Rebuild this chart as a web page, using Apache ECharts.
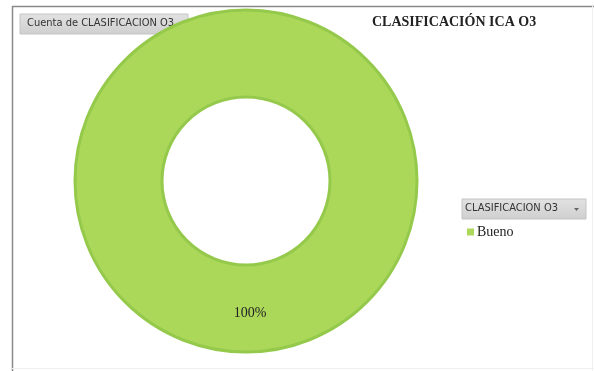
<!DOCTYPE html>
<html>
<head>
<meta charset="utf-8">
<script src="https://cdn.jsdelivr.net/npm/echarts@6/dist/echarts.min.js"></script>
<style>
  html, body { margin: 0; padding: 0; background: #fff; }
  #chart { width: 594px; height: 371px; }
</style>
</head>
<body>
<div id="chart"></div>
<script>
// Pivot chart data: count of O3 classification
const categories = ['Bueno'];
const counts = [1];
const chartTitle = 'CLASIFICACIÓN ICA O3';
const fieldButton = 'Cuenta de CLASIFICACION O3';
const legendButton = 'CLASIFICACION O3';

const chart = echarts.init(document.getElementById('chart'), null, { renderer: 'canvas' });

const pieData = categories.map((name, i) => ({ name: name, value: counts[i] }));

chart.setOption({
  animation: false,
  backgroundColor: '#ffffff',
  title: {
    text: chartTitle,
    left: 372,
    top: 15,
    padding: 0,
    textStyle: {
      fontFamily: 'Liberation Serif, Times New Roman, serif',
      fontWeight: 'bold',
      fontSize: 14,
      color: '#222'
    }
  },
  legend: {
    data: categories,
    orient: 'vertical',
    left: 462,
    top: 220,
    icon: 'rect',
    itemWidth: 7,
    itemHeight: 7,
    itemGap: 4,
    itemStyle: { borderWidth: 0 },
    textStyle: {
      fontFamily: 'Liberation Serif, Times New Roman, serif',
      fontSize: 14,
      color: '#222',
      padding: [0, 0, 0, -2]
    }
  },
  graphic: [
    // outer frame of the chart area
    { type: 'line', shape: { x1: 12, y1: 6.5, x2: 594, y2: 6.5 }, style: { stroke: '#8a8a8a', lineWidth: 1.5 } },
    { type: 'line', shape: { x1: 12.5, y1: 6, x2: 12.5, y2: 371 }, style: { stroke: '#8a8a8a', lineWidth: 1.5 } },
    { type: 'line', shape: { x1: 12, y1: 368.5, x2: 594, y2: 368.5 }, style: { stroke: '#f0f0f0', lineWidth: 1 } },
    { type: 'line', shape: { x1: 592.5, y1: 6, x2: 592.5, y2: 371 }, style: { stroke: '#f0f0f0', lineWidth: 1 } },
    // value field button
    {
      type: 'rect',
      shape: { x: 20, y: 14, width: 168, height: 20 },
      style: {
        fill: new echarts.graphic.LinearGradient(0, 0, 0, 1, [
          { offset: 0, color: '#e2e2e2' }, { offset: 1, color: '#cfcfcf' }
        ]),
        stroke: '#c4c4c4', lineWidth: 1
      }
    },
    {
      type: 'text',
      left: 27, top: 18,
      style: { text: fieldButton, font: '11px "DejaVu Sans Condensed", "Liberation Sans Narrow", sans-serif', fill: '#333' }
    },
    // legend field button
    {
      type: 'rect',
      shape: { x: 462, y: 199, width: 124, height: 20 },
      style: {
        fill: new echarts.graphic.LinearGradient(0, 0, 0, 1, [
          { offset: 0, color: '#e2e2e2' }, { offset: 1, color: '#cfcfcf' }
        ]),
        stroke: '#c4c4c4', lineWidth: 1
      }
    },
    {
      type: 'text',
      left: 465, top: 203,
      style: { text: legendButton, font: '11px "DejaVu Sans Condensed", "Liberation Sans Narrow", sans-serif', fill: '#333' }
    },
    {
      type: 'polygon',
      shape: { points: [[574, 208], [579, 208], [576.5, 211]] },
      style: { fill: '#666' }
    }
  ],
  series: [{
    type: 'pie',
    center: [246, 181],
    radius: [84, 171],
    startAngle: 90,
    clockwise: true,
    silent: true,
    avoidLabelOverlap: false,
    itemStyle: {
      color: '#acd85a',
      borderColor: '#95c94b',
      borderWidth: 3
    },
    label: {
      show: true,
      position: 'inside',
      formatter: '{d}%',
      fontFamily: 'Liberation Serif, Times New Roman, serif',
      fontSize: 14,
      color: '#222',
      offset: [4, 2]
    },
    labelLine: { show: false },
    data: pieData
  }]
});
</script>
</body>
</html>
